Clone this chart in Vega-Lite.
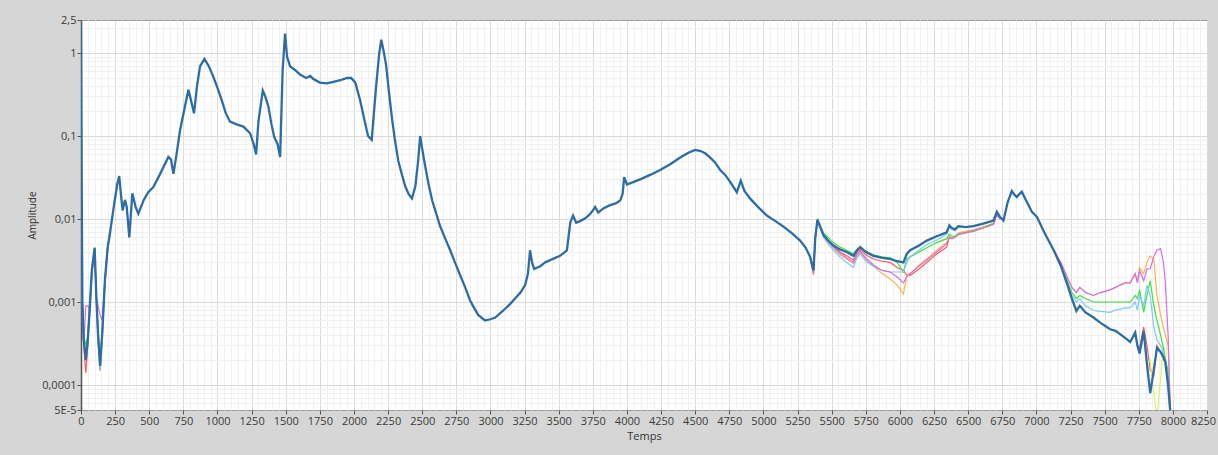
{
  "$schema": "https://vega.github.io/schema/vega-lite/v6.json",
  "width": 1126,
  "height": 390,
  "autosize": {"type": "none"},
  "padding": {"left": 81, "top": 20, "right": 11, "bottom": 45},
  "background": "#d6d6d6",
  "config": {
    "view": {"fill": "white", "stroke": "#9a9a9a", "strokeWidth": 1},
    "font": "Open Sans"
  },
  "datasets": {
    "main": [
      {"x":0,"y":2.3},{"x":4,"y":0.05},{"x":10,"y":0.001},{"x":20,"y":0.00035},{"x":35,"y":0.0002},{"x":50,"y":0.00035},{"x":65,"y":0.0009},{"x":80,"y":0.0025},{"x":100,"y":0.0045},{"x":112,"y":0.0012},{"x":125,"y":0.0004},{"x":140,"y":0.00017},{"x":155,"y":0.0004},{"x":175,"y":0.0018},{"x":195,"y":0.0045},{"x":212,"y":0.0067},
      {"x":240,"y":0.014},{"x":265,"y":0.026},{"x":280,"y":0.033},{"x":295,"y":0.018},{"x":305,"y":0.0127},{"x":322,"y":0.017},{"x":335,"y":0.014},{"x":354,"y":0.006},{"x":376,"y":0.0204},{"x":400,"y":0.014},{"x":420,"y":0.0116},{"x":460,"y":0.017},{"x":493,"y":0.021},{"x":530,"y":0.0243},{"x":580,"y":0.035},{"x":640,"y":0.056},{"x":660,"y":0.052},{"x":677,"y":0.035},{"x":700,"y":0.06},{"x":726,"y":0.118},{"x":760,"y":0.22},{"x":787,"y":0.36},{"x":808,"y":0.26},{"x":828,"y":0.188},{"x":850,"y":0.4},{"x":872,"y":0.69},{"x":904,"y":0.85},{"x":935,"y":0.7},{"x":969,"y":0.52},{"x":1000,"y":0.38},{"x":1031,"y":0.27},{"x":1060,"y":0.19},{"x":1092,"y":0.149},{"x":1140,"y":0.138},{"x":1190,"y":0.13},{"x":1239,"y":0.108},{"x":1265,"y":0.08},{"x":1283,"y":0.06},{"x":1300,"y":0.15},{"x":1332,"y":0.353},{"x":1350,"y":0.3},{"x":1373,"y":0.226},{"x":1395,"y":0.14},{"x":1415,"y":0.098},{"x":1440,"y":0.08},{"x":1459,"y":0.056},{"x":1477,"y":0.6},{"x":1495,"y":1.71},{"x":1510,"y":0.9},{"x":1532,"y":0.69},{"x":1570,"y":0.62},{"x":1605,"y":0.55},{"x":1650,"y":0.5},{"x":1680,"y":0.53},{"x":1700,"y":0.49},{"x":1750,"y":0.44},{"x":1800,"y":0.43},{"x":1850,"y":0.45},{"x":1900,"y":0.47},{"x":1950,"y":0.5},{"x":1980,"y":0.5},{"x":2010,"y":0.44},{"x":2045,"y":0.27},{"x":2075,"y":0.16},{"x":2103,"y":0.1},{"x":2130,"y":0.09},{"x":2160,"y":0.36},{"x":2185,"y":1.0},{"x":2200,"y":1.45},{"x":2220,"y":1.0},{"x":2235,"y":0.72},{"x":2260,"y":0.3},{"x":2280,"y":0.156},{"x":2300,"y":0.09},{"x":2325,"y":0.05},{"x":2350,"y":0.035},{"x":2375,"y":0.025},{"x":2400,"y":0.02},{"x":2425,"y":0.0177},{"x":2450,"y":0.025},{"x":2470,"y":0.05},{"x":2485,"y":0.1},{"x":2500,"y":0.07},{"x":2520,"y":0.045},{"x":2545,"y":0.027},{"x":2573,"y":0.0167},{"x":2600,"y":0.012},{"x":2630,"y":0.0083},{"x":2665,"y":0.006},{"x":2705,"y":0.0042},{"x":2740,"y":0.003},{"x":2778,"y":0.0021},{"x":2815,"y":0.0015},{"x":2850,"y":0.00105},{"x":2880,"y":0.00085},{"x":2910,"y":0.0007},{"x":2960,"y":0.0006},{"x":3000,"y":0.00062},{"x":3035,"y":0.00065},{"x":3070,"y":0.00073},{"x":3108,"y":0.00083},{"x":3145,"y":0.00095},{"x":3180,"y":0.0011},{"x":3220,"y":0.0013},{"x":3254,"y":0.0016},{"x":3275,"y":0.0022},{"x":3290,"y":0.0042},{"x":3305,"y":0.003},{"x":3320,"y":0.0025},{"x":3365,"y":0.0027},{"x":3400,"y":0.003},{"x":3437,"y":0.0032},{"x":3475,"y":0.0034},{"x":3510,"y":0.0036},{"x":3560,"y":0.0042},{"x":3585,"y":0.0091},{"x":3605,"y":0.011},{"x":3628,"y":0.009},{"x":3660,"y":0.0095},{"x":3695,"y":0.0102},{"x":3730,"y":0.0115},{"x":3752,"y":0.0128},{"x":3767,"y":0.014},{"x":3790,"y":0.012},{"x":3830,"y":0.0135},{"x":3877,"y":0.0147},{"x":3920,"y":0.0155},{"x":3950,"y":0.0167},{"x":3968,"y":0.02},{"x":3980,"y":0.032},{"x":4000,"y":0.026},{"x":4050,"y":0.028},{"x":4097,"y":0.03},{"x":4170,"y":0.034},{"x":4243,"y":0.039},{"x":4320,"y":0.046},{"x":4390,"y":0.055},{"x":4450,"y":0.063},{"x":4500,"y":0.068},{"x":4540,"y":0.066},{"x":4573,"y":0.062},{"x":4610,"y":0.055},{"x":4646,"y":0.048},{"x":4683,"y":0.039},{"x":4720,"y":0.034},{"x":4756,"y":0.028},{"x":4790,"y":0.023},{"x":4805,"y":0.021},{"x":4834,"y":0.029},{"x":4860,"y":0.022},{"x":4903,"y":0.0176},{"x":4960,"y":0.014},{"x":5025,"y":0.011},{"x":5085,"y":0.0095},{"x":5147,"y":0.0081},{"x":5210,"y":0.0067},{"x":5269,"y":0.0055},{"x":5310,"y":0.0045},{"x":5342,"y":0.0035},{"x":5367,"y":0.0024},{"x":5380,"y":0.006},{"x":5396,"y":0.0098},{"x":5420,"y":0.0078},{"x":5440,"y":0.0064},{"x":5475,"y":0.0055},{"x":5513,"y":0.0048},{"x":5560,"y":0.0043},{"x":5610,"y":0.004},{"x":5660,"y":0.0036},{"x":5685,"y":0.0042},{"x":5709,"y":0.0046},{"x":5750,"y":0.004},{"x":5806,"y":0.0036},{"x":5870,"y":0.0034},{"x":5928,"y":0.0033},{"x":5980,"y":0.0031},{"x":6026,"y":0.003},{"x":6050,"y":0.0038},{"x":6075,"y":0.0042},{"x":6140,"y":0.0048},{"x":6197,"y":0.0055},{"x":6270,"y":0.0062},{"x":6343,"y":0.0069},{"x":6362,"y":0.0084},{"x":6380,"y":0.0078},{"x":6404,"y":0.0075},{"x":6429,"y":0.0082},{"x":6480,"y":0.008},{"x":6539,"y":0.0082},{"x":6610,"y":0.0088},{"x":6686,"y":0.0096},{"x":6710,"y":0.0122},{"x":6735,"y":0.0105},{"x":6759,"y":0.0096},{"x":6790,"y":0.016},{"x":6820,"y":0.0218},{"x":6840,"y":0.0195},{"x":6857,"y":0.0184},{"x":6875,"y":0.02},{"x":6893,"y":0.0213},{"x":6930,"y":0.016},{"x":6967,"y":0.0122},{"x":7004,"y":0.0106},{"x":7060,"y":0.0068},{"x":7127,"y":0.0042},{"x":7180,"y":0.0027},{"x":7225,"y":0.00165},{"x":7260,"y":0.0011},{"x":7293,"y":0.00078},{"x":7318,"y":0.0009},{"x":7360,"y":0.00075},{"x":7418,"y":0.00065},{"x":7470,"y":0.00056},{"x":7540,"y":0.00047},{"x":7580,"y":0.00045},{"x":7613,"y":0.00041},{"x":7650,"y":0.00037},{"x":7687,"y":0.00033},{"x":7724,"y":0.00043},{"x":7740,"y":0.0003},{"x":7756,"y":0.00024},{"x":7786,"y":0.00045},{"x":7810,"y":0.00018},{"x":7834,"y":0.00008},{"x":7860,"y":0.00015},{"x":7883,"y":0.00028},{"x":7910,"y":0.00025},{"x":7930,"y":0.00022},{"x":7944,"y":0.00019},{"x":7965,"y":0.0001},{"x":7980,"y":0.00005}
    ],
    "dev": [
      {"seg":1,"x":0,"r":2.3,"o":2.3,"l":2.3,"g":2.3,"c":2.3,"v":2.3},
      {"seg":1,"x":4,"r":0.05,"o":0.05,"l":0.05,"g":0.05,"c":0.05,"v":0.05},
      {"seg":1,"x":10,"r":0.001,"o":0.001,"l":0.001,"g":0.001,"c":0.001,"v":0.0006},
      {"seg":1,"x":20,"r":0.0003,"o":0.00035,"l":0.00035,"g":0.0004,"c":0.00035,"v":0.0003},
      {"seg":1,"x":35,"r":0.00014,"o":0.00022,"l":0.00025,"g":0.0003,"c":0.0002,"v":0.0009},
      {"seg":1,"x":50,"r":0.0003,"o":0.00035,"l":0.0004,"g":0.0004,"c":0.00035,"v":0.0009},
      {"seg":1,"x":65,"r":0.0008,"o":0.0009,"l":0.0009,"g":0.001,"c":0.0009,"v":0.0008},
      {"seg":1,"x":80,"r":0.0022,"o":0.0025,"l":0.0025,"g":0.0025,"c":0.0025,"v":0.0022},
      {"seg":1,"x":100,"r":0.004,"o":0.0045,"l":0.0045,"g":0.0045,"c":0.0045,"v":0.0042},
      {"seg":1,"x":112,"r":0.0011,"o":0.0012,"l":0.0012,"g":0.0012,"c":0.0012,"v":0.0012},
      {"seg":1,"x":125,"r":0.00035,"o":0.0004,"l":0.0004,"g":0.0005,"c":0.0004,"v":0.0009},
      {"seg":1,"x":140,"r":0.00015,"o":0.00018,"l":0.0002,"g":0.0002,"c":0.00015,"v":0.0007},
      {"seg":1,"x":155,"r":0.00035,"o":0.0004,"l":0.0004,"g":0.00045,"c":0.0004,"v":0.0006},
      {"seg":1,"x":175,"r":0.0016,"o":0.0018,"l":0.0018,"g":0.0018,"c":0.0018,"v":0.0018},
      {"seg":1,"x":195,"r":0.0042,"o":0.0045,"l":0.0045,"g":0.0045,"c":0.0045,"v":0.0045},
      {"seg":1,"x":212,"r":0.0067,"o":0.0067,"l":0.0067,"g":0.0067,"c":0.0067,"v":0.0067},
      {"seg":2,"x":5342,"r":0.0035,"o":0.0034,"l":0.0035,"g":0.0035,"c":0.0034,"v":0.0034},
      {"seg":2,"x":5367,"r":0.0023,"o":0.0021,"l":0.0024,"g":0.0025,"c":0.0022,"v":0.0022},
      {"seg":2,"x":5380,"r":0.0059,"o":0.0058,"l":0.006,"g":0.006,"c":0.0058,"v":0.0058},
      {"seg":2,"x":5396,"r":0.0097,"o":0.0096,"l":0.0098,"g":0.0098,"c":0.0096,"v":0.0096},
      {"seg":2,"x":5420,"r":0.0077,"o":0.0076,"l":0.0078,"g":0.008,"c":0.0074,"v":0.0076},
      {"seg":2,"x":5440,"r":0.0064,"o":0.0062,"l":0.0064,"g":0.0068,"c":0.006,"v":0.0063},
      {"seg":2,"x":5475,"r":0.0054,"o":0.0052,"l":0.0055,"g":0.006,"c":0.005,"v":0.0053},
      {"seg":2,"x":5513,"r":0.0046,"o":0.0045,"l":0.0048,"g":0.0052,"c":0.0042,"v":0.0046},
      {"seg":2,"x":5560,"r":0.004,"o":0.0037,"l":0.0043,"g":0.0046,"c":0.0035,"v":0.0039},
      {"seg":2,"x":5610,"r":0.0036,"o":0.0033,"l":0.004,"g":0.0042,"c":0.003,"v":0.0034},
      {"seg":2,"x":5660,"r":0.0032,"o":0.0029,"l":0.0036,"g":0.0038,"c":0.0026,"v":0.003},
      {"seg":2,"x":5685,"r":0.0039,"o":0.0036,"l":0.0042,"g":0.0043,"c":0.0034,"v":0.0037},
      {"seg":2,"x":5709,"r":0.0043,"o":0.004,"l":0.0046,"g":0.0046,"c":0.0038,"v":0.0041},
      {"seg":2,"x":5750,"r":0.0037,"o":0.0033,"l":0.004,"g":0.0041,"c":0.0031,"v":0.0034},
      {"seg":2,"x":5806,"r":0.0033,"o":0.0027,"l":0.0036,"g":0.0037,"c":0.0027,"v":0.0028},
      {"seg":2,"x":5870,"r":0.0031,"o":0.0022,"l":0.0034,"g":0.0035,"c":0.0024,"v":0.0024},
      {"seg":2,"x":5928,"r":0.003,"o":0.0019,"l":0.0033,"g":0.0034,"c":0.0023,"v":0.0023},
      {"seg":2,"x":5980,"r":0.0026,"o":0.0016,"l":0.0031,"g":0.003,"c":0.0023,"v":0.002},
      {"seg":2,"x":6026,"r":0.0024,"o":0.00125,"l":0.003,"g":0.0023,"c":0.0023,"v":0.0017},
      {"seg":2,"x":6050,"r":0.0021,"o":0.0021,"l":0.0038,"g":0.0033,"c":0.003,"v":0.002},
      {"seg":2,"x":6075,"r":0.0021,"o":0.0022,"l":0.0042,"g":0.0035,"c":0.0035,"v":0.0022},
      {"seg":2,"x":6140,"r":0.0025,"o":0.0028,"l":0.0048,"g":0.004,"c":0.0042,"v":0.0027},
      {"seg":2,"x":6197,"r":0.003,"o":0.0033,"l":0.0055,"g":0.0045,"c":0.0049,"v":0.0032},
      {"seg":2,"x":6270,"r":0.0038,"o":0.0042,"l":0.0062,"g":0.0052,"c":0.0056,"v":0.004},
      {"seg":2,"x":6343,"r":0.0046,"o":0.0052,"l":0.0069,"g":0.0058,"c":0.0066,"v":0.005},
      {"seg":2,"x":6362,"r":0.006,"o":0.0062,"l":0.0084,"g":0.0066,"c":0.008,"v":0.006},
      {"seg":2,"x":6380,"r":0.0058,"o":0.006,"l":0.0078,"g":0.0062,"c":0.0075,"v":0.0058},
      {"seg":2,"x":6404,"r":0.0061,"o":0.0062,"l":0.0075,"g":0.0062,"c":0.0072,"v":0.006},
      {"seg":2,"x":6429,"r":0.0066,"o":0.0068,"l":0.0082,"g":0.0066,"c":0.008,"v":0.0065},
      {"seg":2,"x":6480,"r":0.007,"o":0.0071,"l":0.008,"g":0.0068,"c":0.008,"v":0.0068},
      {"seg":2,"x":6539,"r":0.0073,"o":0.0074,"l":0.0082,"g":0.0071,"c":0.0082,"v":0.0072},
      {"seg":2,"x":6610,"r":0.008,"o":0.008,"l":0.0088,"g":0.0078,"c":0.0087,"v":0.0078},
      {"seg":2,"x":6686,"r":0.0088,"o":0.0088,"l":0.0096,"g":0.0088,"c":0.0095,"v":0.0086},
      {"seg":2,"x":6710,"r":0.0115,"o":0.0115,"l":0.0122,"g":0.012,"c":0.012,"v":0.0112},
      {"seg":2,"x":6735,"r":0.0102,"o":0.0102,"l":0.0105,"g":0.0105,"c":0.0105,"v":0.01},
      {"seg":3,"x":7127,"r":0.0042,"o":0.0042,"l":0.0042,"g":0.0042,"c":0.0042,"v":0.0042},
      {"seg":3,"x":7180,"r":0.0027,"o":0.003,"l":0.0027,"g":0.0028,"c":0.0027,"v":0.003},
      {"seg":3,"x":7225,"r":0.00165,"o":0.002,"l":0.00165,"g":0.0018,"c":0.0017,"v":0.002},
      {"seg":3,"x":7260,"r":0.0011,"o":0.0015,"l":0.0011,"g":0.0013,"c":0.0012,"v":0.0015},
      {"seg":3,"x":7293,"r":0.00078,"o":0.0013,"l":0.00078,"g":0.0011,"c":0.001,"v":0.0013},
      {"seg":3,"x":7318,"r":0.0009,"o":0.0015,"l":0.0009,"g":0.0012,"c":0.0011,"v":0.0015},
      {"seg":3,"x":7360,"r":0.00075,"o":0.0013,"l":0.00075,"g":0.0011,"c":0.0009,"v":0.0013},
      {"seg":3,"x":7418,"r":0.00065,"o":0.0012,"l":0.00065,"g":0.001,"c":0.00079,"v":0.0012},
      {"seg":3,"x":7470,"r":0.00056,"o":0.0013,"l":0.00056,"g":0.001,"c":0.00077,"v":0.0013},
      {"seg":3,"x":7540,"r":0.00047,"o":0.0014,"l":0.00047,"g":0.001,"c":0.00075,"v":0.0014},
      {"seg":3,"x":7580,"r":0.00045,"o":0.0015,"l":0.00045,"g":0.001,"c":0.0008,"v":0.0015},
      {"seg":3,"x":7613,"r":0.00041,"o":0.0016,"l":0.00041,"g":0.001,"c":0.00082,"v":0.0016},
      {"seg":3,"x":7650,"r":0.00037,"o":0.0017,"l":0.00037,"g":0.001,"c":0.00085,"v":0.0017},
      {"seg":3,"x":7687,"r":0.00033,"o":0.0017,"l":0.00033,"g":0.001,"c":0.00085,"v":0.0017},
      {"seg":3,"x":7724,"r":0.00043,"o":0.0022,"l":0.00043,"g":0.0012,"c":0.001,"v":0.0022},
      {"seg":3,"x":7740,"r":0.0003,"o":0.0018,"l":0.0003,"g":0.0011,"c":0.0008,"v":0.0017},
      {"seg":3,"x":7756,"r":0.00028,"o":0.0026,"l":0.00024,"g":0.0014,"c":0.0012,"v":0.0024},
      {"seg":3,"x":7786,"r":0.0005,"o":0.0022,"l":0.00045,"g":0.00075,"c":0.0009,"v":0.0018},
      {"seg":3,"x":7810,"r":0.0003,"o":0.003,"l":0.00018,"g":0.0012,"c":0.0016,"v":0.0025},
      {"seg":3,"x":7834,"r":0.00015,"o":0.0036,"l":0.0002,"g":0.0018,"c":0.0012,"v":0.0025},
      {"seg":3,"x":7860,"r":0.00013,"o":0.0033,"l":0.00008,"g":0.0009,"c":0.0005,"v":0.0035},
      {"seg":3,"x":7883,"r":0.0003,"o":0.0012,"l":0.00004,"g":0.0006,"c":0.00035,"v":0.0042},
      {"seg":3,"x":7910,"r":0.00025,"o":0.0007,"l":0.00012,"g":0.0004,"c":0.0003,"v":0.0044},
      {"seg":3,"x":7930,"r":0.0002,"o":0.0005,"l":0.0003,"g":0.00028,"c":0.00025,"v":0.003},
      {"seg":3,"x":7944,"r":0.00022,"o":0.0004,"l":0.00023,"g":0.0002,"c":0.0002,"v":0.0018},
      {"seg":3,"x":7965,"r":0.0001,"o":0.0003,"l":0.0001,"g":0.00015,"c":0.0001,"v":0.0004},
      {"seg":3,"x":7980,"r":0.00005,"o":0.00005,"l":0.00004,"g":0.00005,"c":0.00005,"v":0.00006}
    ]
  },
  "resolve": {"axis": {"x": "independent", "y": "independent"}},
  "layer": [
    {
      "data": {"name": "dev"},
      "transform": [{"fold": ["r", "o", "l", "g", "c", "v"], "as": ["s", "y"]}],
      "mark": {"type": "line", "strokeWidth": 1.2, "clip": true},
      "encoding": {
        "x": {
          "field": "x", "type": "quantitative",
          "scale": {"domain": [0, 8250], "nice": false, "zero": false},
          "axis": {
            "orient": "top", "title": null, "labels": false, "ticks": false, "domain": false,
            "values": [50,100,150,200,300,350,400,450,550,600,650,700,800,850,900,950,1050,1100,1150,1200,1300,1350,1400,1450,1550,1600,1650,1700,1800,1850,1900,1950,2050,2100,2150,2200,2300,2350,2400,2450,2550,2600,2650,2700,2800,2850,2900,2950,3050,3100,3150,3200,3300,3350,3400,3450,3550,3600,3650,3700,3800,3850,3900,3950,4050,4100,4150,4200,4300,4350,4400,4450,4550,4600,4650,4700,4800,4850,4900,4950,5050,5100,5150,5200,5300,5350,5400,5450,5550,5600,5650,5700,5800,5850,5900,5950,6050,6100,6150,6200,6300,6350,6400,6450,6550,6600,6650,6700,6800,6850,6900,6950,7050,7100,7150,7200,7300,7350,7400,7450,7550,7600,7650,7700,7800,7850,7900,7950,8050,8100,8150,8200],
            "grid": true, "gridColor": "#f0f0f0", "gridWidth": 1
          }
        },
        "y": {
          "field": "y", "type": "quantitative",
          "scale": {"type": "log", "domain": [0.00005, 2.5], "nice": false},
          "axis": {
            "orient": "right", "title": null, "labels": false, "ticks": false, "domain": false,
            "values": [0.00006,0.00007,0.00008,0.00009,0.0002,0.0003,0.0004,0.0005,0.0006,0.0007,0.0008,0.0009,0.002,0.003,0.004,0.005,0.006,0.007,0.008,0.009,0.02,0.03,0.04,0.05,0.06,0.07,0.08,0.09,0.2,0.3,0.4,0.5,0.6,0.7,0.8,0.9,2],
            "grid": true, "gridColor": "#f0f0f0", "gridWidth": 1
          }
        },
        "color": {
          "field": "s", "type": "nominal",
          "scale": {"domain": ["r", "o", "l", "g", "c", "v"], "range": ["#ff5a5a", "#ffb347", "#d4f56a", "#3de03d", "#7cc8ff", "#d070f0"]},
          "legend": null
        },
        "detail": {"field": "seg", "type": "nominal"}
      }
    },
    {
      "data": {"name": "main"},
      "mark": {"type": "line", "color": "#2d6da6", "strokeWidth": 2.3, "clip": true},
      "encoding": {
        "x": {
          "field": "x", "type": "quantitative",
          "scale": {"domain": [0, 8250], "nice": false, "zero": false},
          "axis": {
            "orient": "bottom",
            "title": "Temps",
            "titleFontSize": 11, "titleFontWeight": "normal", "titleColor": "#333333", "titlePadding": 4,
            "values": [0,250,500,750,1000,1250,1500,1750,2000,2250,2500,2750,3000,3250,3500,3750,4000,4250,4500,4750,5000,5250,5500,5750,6000,6250,6500,6750,7000,7250,7500,7750,8000,8250],
            "format": "d",
            "labelOverlap": false, "labelFlush": false,
            "labelOffset": {"condition": {"test": "datum.value === 8250", "value": -4}, "value": 0},
            "labelFontSize": 11, "labelColor": "#3a3a3a", "labelPadding": 1,
            "domain": false,
            "tickColor": "#555555", "tickSize": 4,
            "grid": true, "gridColor": "#dadada", "gridWidth": 1
          }
        },
        "y": {
          "field": "y", "type": "quantitative",
          "scale": {"type": "log", "domain": [0.00005, 2.5], "nice": false},
          "axis": {
            "orient": "left",
            "title": "Amplitude",
            "titleFontSize": 10, "titleFontWeight": "normal", "titleColor": "#333333", "titlePadding": 4,
            "values": [0.00005, 0.0001, 0.001, 0.01, 0.1, 1, 2.5],
            "labelExpr": "datum.value === 2.5 ? '2,5' : datum.value === 1 ? '1' : datum.value === 0.1 ? '0,1' : datum.value === 0.01 ? '0,01' : datum.value === 0.001 ? '0,001' : datum.value === 0.0001 ? '0,0001' : '5E-5'",
            "labelOverlap": false, "labelFlush": false,
            "labelFontSize": 11, "labelColor": "#3a3a3a", "labelPadding": 1,
            "domain": true, "domainColor": "#555555", "domainWidth": 1.5,
            "tickColor": "#555555", "tickSize": 4,
            "grid": true,
            "gridOpacity": {"condition": {"test": "datum.value === 2.5 || datum.value === 0.00005", "value": 0}, "value": 1},
            "gridColor": "#dadada", "gridWidth": 1
          }
        }
      }
    }
  ]
}
